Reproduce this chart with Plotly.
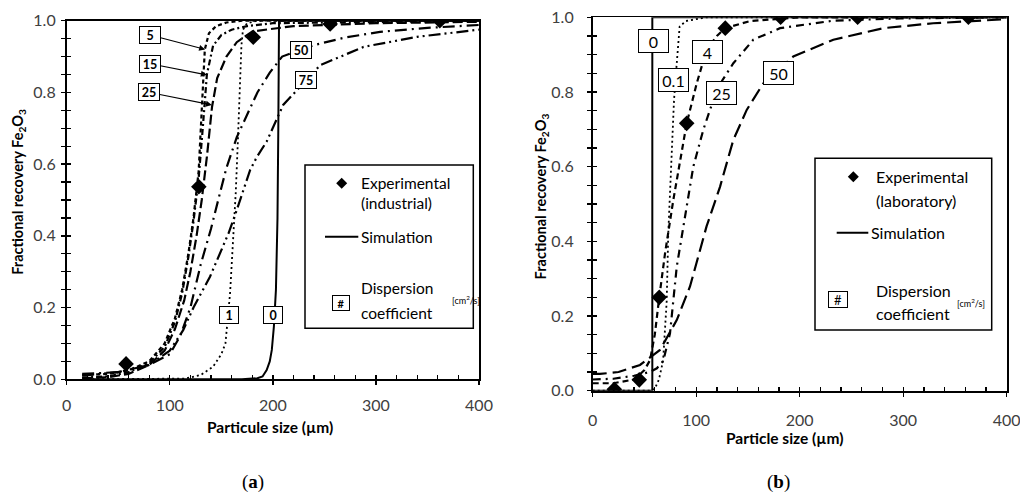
import plotly.graph_objects as go

W, H = 1020, 494

# ---------------- Panel (a): industrial ----------------
exp_a_x = [57.6, 128.2, 181.0, 255.6, 362.0]
exp_a_y = [0.043, 0.537, 0.954, 0.991, 1.0]

a0_x = [15, 170, 185, 190, 194, 197, 199, 201, 203, 204.5, 205.3, 205.7, 206, 400]
a0_y = [0, 0, 0.003, 0.008, 0.026, 0.05, 0.082, 0.147, 0.25, 0.45, 0.7, 0.9, 1.0, 1.0]

a1_x = [15, 100, 115, 130, 142, 150, 154, 158.5, 161.7, 164, 166, 168, 169.5, 171, 175, 185, 400]
a1_y = [0, 0, 0.002, 0.012, 0.035, 0.07, 0.1, 0.24, 0.4, 0.52, 0.66, 0.82, 0.93, 0.975, 0.993, 1.0, 1.0]

a5_x = [15, 40, 60, 80, 95, 105, 112, 118, 123, 128, 131, 134, 138, 145, 155, 170, 400]
a5_y = [0.012, 0.015, 0.025, 0.05, 0.1, 0.17, 0.25, 0.35, 0.45, 0.58, 0.75, 0.92, 0.965, 0.985, 0.995, 1.0, 1.0]

a15_x = [15, 40, 60, 80, 95, 105, 112, 118, 123, 128, 132, 136, 142, 150, 160, 175, 200, 400]
a15_y = [0.005, 0.008, 0.02, 0.045, 0.09, 0.16, 0.24, 0.34, 0.44, 0.56, 0.7, 0.85, 0.93, 0.96, 0.975, 0.985, 0.993, 1.0]

a25_x = [15, 40, 60, 80, 95, 105, 114, 120, 126, 131, 136, 141, 146, 155, 165, 180, 220, 300, 400]
a25_y = [0.003, 0.006, 0.015, 0.04, 0.08, 0.14, 0.22, 0.3, 0.4, 0.5, 0.62, 0.76, 0.84, 0.9, 0.94, 0.97, 0.985, 0.993, 0.997]

a50_x = [15, 50, 80, 100, 110, 120, 130, 140, 147, 155, 165, 175, 185, 197, 209, 240, 270, 304, 350, 400]
a50_y = [0.015, 0.02, 0.04, 0.07, 0.12, 0.2, 0.32, 0.42, 0.5, 0.59, 0.675, 0.74, 0.8, 0.855, 0.9, 0.932, 0.953, 0.969, 0.98, 0.988]

a75_x = [15, 50, 80, 100, 113, 123, 139, 149, 157, 165, 171.5, 178, 184.5, 194, 210, 246, 288, 340, 400]
a75_y = [0.01, 0.02, 0.04, 0.08, 0.137, 0.2, 0.286, 0.351, 0.407, 0.472, 0.528, 0.584, 0.62, 0.663, 0.765, 0.876, 0.927, 0.955, 0.975]

# ---------------- Panel (b): laboratory ----------------
exp_b_x = [20.9, 45.0, 64.3, 90.8, 128.1, 181.6, 256.0, 363.0]
exp_b_y = [0.004, 0.029, 0.25, 0.716, 0.971, 1.0, 1.0, 1.0]

b0_x = [0, 57.6, 57.6, 400]
b0_y = [0, 0, 1.0, 1.0]

b01_x = [0, 55, 60, 64, 68, 71.5, 73, 76, 78.6, 81, 84, 90, 110, 400]
b01_y = [0, 0, 0.005, 0.03, 0.08, 0.24, 0.42, 0.6, 0.78, 0.87, 0.975, 0.99, 1.0, 1.0]

b4_x = [0, 20, 40, 50, 55.4, 60, 64.3, 70, 77.9, 85, 90.8, 100.5, 110, 120, 128, 152, 200, 400]
b4_y = [0.02, 0.02, 0.03, 0.055, 0.082, 0.15, 0.25, 0.37, 0.511, 0.63, 0.716, 0.823, 0.913, 0.95, 0.971, 0.99, 1.0, 1.0]

b25_x = [0, 20, 40, 55, 62, 68.2, 74.7, 81.2, 89.2, 97.2, 107, 116.5, 125, 135.9, 155.2, 181, 232.5, 297, 400]
b25_y = [0.03, 0.032, 0.04, 0.05, 0.06, 0.08, 0.154, 0.332, 0.466, 0.6, 0.7, 0.778, 0.83, 0.877, 0.94, 0.971, 0.991, 0.997, 1.0]

b50_x = [0, 7, 25, 45.7, 65, 81.2, 94, 110, 123, 135.9, 148.8, 164.8, 193.8, 232.5, 280.8, 329, 400]
b50_y = [0.045, 0.045, 0.05, 0.069, 0.109, 0.189, 0.279, 0.44, 0.546, 0.672, 0.752, 0.823, 0.895, 0.94, 0.971, 0.984, 0.995]

x_ticks = [0, 100, 200, 300, 400]
y_ticks = [0.0, 0.2, 0.4, 0.6, 0.8, 1.0]
y_tick_text = ["0.0", "0.2", "0.4", "0.6", "0.8", "1.0"]

def px(x):
    return x / W

def py(y):
    return 1 - y / H

fig = go.Figure()

def line(xs, ys, dash, width, xa, ya):
    fig.add_trace(go.Scatter(x=xs, y=ys, mode="lines", xaxis=xa, yaxis=ya,
                             line=dict(color="black", width=width, dash=dash),
                             showlegend=False, hoverinfo="skip"))

# panel a lines
line(a0_x, a0_y, "solid", 2, "x", "y")
line(a1_x, a1_y, "2px,3px", 1.8, "x", "y")
line(a5_x, a5_y, "4px,3px", 2.2, "x", "y")
line(a15_x, a15_y, "6px,3px,2px,3px", 2.2, "x", "y")
line(a25_x, a25_y, "10px,4px", 2.2, "x", "y")
line(a50_x, a50_y, "12px,5px,2px,5px", 2.2, "x", "y")
line(a75_x, a75_y, "12px,4px,2px,4px,2px,4px", 2.2, "x", "y")
fig.add_trace(go.Scatter(x=exp_a_x, y=exp_a_y, mode="markers", xaxis="x", yaxis="y",
                         marker=dict(symbol="diamond", size=12, color="black"),
                         showlegend=False, hoverinfo="skip"))

# panel b lines
line(b0_x, b0_y, "solid", 2, "x2", "y2")
line(b01_x, b01_y, "2px,3px", 1.8, "x2", "y2")
line(b4_x, b4_y, "6px,4px", 2.2, "x2", "y2")
line(b25_x, b25_y, "8px,5px,2px,5px", 2.2, "x2", "y2")
line(b50_x, b50_y, "14px,6px", 2.2, "x2", "y2")
fig.add_trace(go.Scatter(x=exp_b_x, y=exp_b_y, mode="markers", xaxis="x2", yaxis="y2",
                         marker=dict(symbol="diamond", size=12, color="black"),
                         showlegend=False, hoverinfo="skip"))

# dummy traces for overlay tick axes
for xa, ya in (("x3", "y3"), ("x4", "y4")):
    fig.add_trace(go.Scatter(x=[None], y=[None], xaxis=xa, yaxis=ya, mode="lines",
                             showlegend=False, hoverinfo="skip"))

tickfont = dict(family="Lato", size=16, color="#404040")

def base_x(domain, anchor, standoff):
    return dict(domain=domain, anchor=anchor, range=[0, 400], tickvals=x_ticks,
                ticks="outside", ticklen=4, tickwidth=1.3, tickcolor="black",
                ticklabelstandoff=standoff, automargin=False, ticklabeloverflow="allow",
                showline=True, linecolor="black", linewidth=1.8, mirror=True,
                showgrid=False, zeroline=False, tickfont=tickfont, fixedrange=True)

def base_y(domain, anchor, standoff):
    return dict(domain=domain, anchor=anchor, range=[0, 1], tickvals=y_ticks, ticktext=y_tick_text,
                ticks="outside", ticklen=4, tickwidth=1.3, tickcolor="black",
                ticklabelstandoff=standoff, automargin=False, ticklabeloverflow="allow",
                minor=dict(dtick=0.05, ticks="outside", ticklen=4, tickwidth=1.3, tickcolor="black"),
                showline=True, linecolor="black", linewidth=1.8, mirror=True,
                showgrid=False, zeroline=False, tickfont=tickfont, fixedrange=True)

def over_x(over, anchor):
    return dict(overlaying=over, anchor=anchor, range=[0, 400], tickvals=x_ticks,
                ticks="inside", ticklen=4, tickwidth=1.3, tickcolor="black",
                minor=dict(dtick=20, ticks="inside", ticklen=4, tickwidth=1.3, tickcolor="black"),
                showticklabels=False, showline=False, showgrid=False, zeroline=False, fixedrange=True)

def over_y(over, anchor):
    return dict(overlaying=over, anchor=anchor, range=[0, 1], tickvals=y_ticks,
                ticks="inside", ticklen=4, tickwidth=1.3, tickcolor="black",
                minor=dict(dtick=0.05, ticks="inside", ticklen=4, tickwidth=1.3, tickcolor="black"),
                showticklabels=False, showline=False, showgrid=False, zeroline=False, fixedrange=True)

dom_ax = [px(66.7), px(479.0)]
dom_ay = [py(379.3), py(20.7)]
dom_bx = [px(592.7), px(1006.7)]
dom_by = [py(390.7), py(17.3)]

fig.update_layout(
    width=W, height=H, margin=dict(l=0, r=0, t=0, b=0, pad=0), autosize=False,
    paper_bgcolor="white", plot_bgcolor="rgba(0,0,0,0)",
    xaxis=base_x(dom_ax, "y", 7), yaxis=base_y(dom_ay, "x", 2),
    xaxis2=base_x(dom_bx, "y2", 10), yaxis2=base_y(dom_by, "x2", 10),
    xaxis3=over_x("x", "y3"), yaxis3=over_y("y", "x3"),
    xaxis4=over_x("x2", "y4"), yaxis4=over_y("y2", "x4"),
)

ann = []
shapes = []

def txt(x, y, s, size=14, bold=False, xanchor="left", family="Lato", angle=0, color="black"):
    if bold:
        s = "<b>" + s + "</b>"
    ann.append(dict(x=px(x), y=py(y), xref="paper", yref="paper", text=s, showarrow=False,
                    xanchor=xanchor, yanchor="middle", textangle=angle,
                    font=dict(family=family, size=size, color=color)))

# axis titles
txt(18.3, 191.5, "Fractional recovery Fe<sub>2</sub>O<sub>3</sub>", size=14.5, bold=True, xanchor="center", angle=-90)
txt(541.7, 196.7, "Fractional recovery Fe<sub>2</sub>O<sub>3</sub>", size=14.5, bold=True, xanchor="center", angle=-90)
txt(270, 426.7, "Particule size (µm)", size=15.5, bold=True, xanchor="center")
txt(785, 438.3, "Particle size (µm)", size=15.5, bold=True, xanchor="center")
txt(253.3, 482, "(<b>a</b>)", size=19, xanchor="center", family="Liberation Serif")
txt(778, 482, "(<b>b</b>)", size=19, xanchor="center", family="Liberation Serif")

# legend (a)
shapes.append(dict(type="rect", xref="paper", yref="paper", x0=px(305), x1=px(473.3), y0=py(165), y1=py(328.3),
                   line=dict(color="black", width=1.5), fillcolor="white", layer="below"))
def diamond(cx, cy, r):
    return (f"M {px(cx)},{py(cy - r)} L {px(cx + r)},{py(cy)} L {px(cx)},{py(cy + r)} "
            f"L {px(cx - r)},{py(cy)} Z")
shapes.append(dict(type="path", xref="paper", yref="paper", path=diamond(341.7, 183.3, 5.5),
                   fillcolor="black", line=dict(color="black", width=0)))
txt(359, 183.3, "Experimental", size=15.5)
txt(359, 203.3, "(industrial)", size=15.5)
shapes.append(dict(type="line", xref="paper", yref="paper", x0=px(325), x1=px(358.3), y0=py(236.7), y1=py(236.7),
                   line=dict(color="black", width=2)))
txt(358.5, 236.7, "Simulation", size=15.5)
ann.append(dict(x=px(340.8), y=py(302.5), xref="paper", yref="paper", text="<b>#</b>", showarrow=False,
                font=dict(family="Lato", size=11, color="black"), bordercolor="black", borderwidth=1,
                bgcolor="white", width=14, height=12, borderpad=1))
txt(359, 288.3, "Dispersion", size=15.5)
txt(359, 313.3, "coefficient", size=15.5)
txt(450, 300, "[cm<sup>2</sup>/s]", size=9)

# legend (b)
shapes.append(dict(type="rect", xref="paper", yref="paper", x0=px(815), x1=px(991.7), y0=py(158.3), y1=py(330),
                   line=dict(color="black", width=1.5), fillcolor="white", layer="below"))
shapes.append(dict(type="path", xref="paper", yref="paper", path=diamond(853.3, 176.7, 5.5),
                   fillcolor="black", line=dict(color="black", width=0)))
txt(874, 176.7, "Experimental", size=16)
txt(874, 200, "(laboratory)", size=16)
shapes.append(dict(type="line", xref="paper", yref="paper", x0=px(836.7), x1=px(868.3), y0=py(232.7), y1=py(232.7),
                   line=dict(color="black", width=2)))
txt(868.5, 232.7, "Simulation", size=16)
ann.append(dict(x=px(848.3), y=py(299), xref="paper", yref="paper", text="#", showarrow=False,
                font=dict(family="Lato", size=13, color="black"), bordercolor="black", borderwidth=1,
                bgcolor="white", width=16, height=13, borderpad=1))
txt(874, 290, "Dispersion", size=16)
txt(874, 313.3, "coefficient", size=16)
txt(955, 303, "[cm<sup>2</sup>/s]", size=9)

# curve labels
def boxlab(x, y, s, xa, ya, size, bold, w, h, head=None):
    t = "<b>" + s + "</b>" if bold else s
    d = dict(text=t, xref=xa, yref=ya, font=dict(family="Lato", size=size, color="black"),
             bordercolor="black", borderwidth=1, bgcolor="white", width=w, height=h, borderpad=1)
    if head is None:
        d.update(x=x, y=y, showarrow=False)
    else:
        d.update(x=head[0], y=head[1], ax=x, ay=y, axref=xa, ayref=ya, showarrow=True,
                 arrowhead=2, arrowsize=1, arrowwidth=1.2, arrowcolor="black", standoff=0)
    ann.append(d)

boxlab(80.9, 0.96, "5", "x", "y", 12.5, True, 18, 14, head=(134.3, 0.92))
boxlab(80.6, 0.88, "15", "x", "y", 12.5, True, 18, 14, head=(136.0, 0.849))
boxlab(80.1, 0.80, "25", "x", "y", 12.5, True, 18, 14, head=(140.8, 0.765))
boxlab(227.0, 0.918, "50", "x", "y", 12.5, True, 18, 14)
boxlab(232.6, 0.835, "75", "x", "y", 12.5, True, 18, 14)
boxlab(157.4, 0.179, "1", "x", "y", 12.5, True, 16, 14)
boxlab(200.6, 0.179, "0", "x", "y", 12.5, True, 16, 14)

boxlab(58.3, 0.9375, "0", "x2", "y2", 16, False, 27, 20)
boxlab(78.3, 0.831, "0.1", "x2", "y2", 16, False, 27, 20)
boxlab(110.5, 0.906, "4", "x2", "y2", 16, False, 27, 20)
boxlab(124.6, 0.797, "25", "x2", "y2", 16, False, 27, 20)
boxlab(179.3, 0.852, "50", "x2", "y2", 16, False, 27, 20)

fig.update_layout(annotations=ann, shapes=shapes)
fig.write_html("out.html", config={"displayModeBar": False, "staticPlot": True},
               post_script="document.body.style.margin='0px';document.body.style.overflow='hidden';")
